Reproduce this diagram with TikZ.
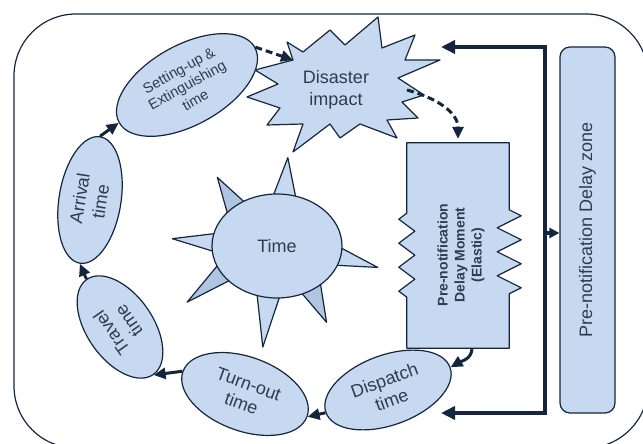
\documentclass[tikz,border=0pt]{standalone}
\usepackage{fontspec}
\setmainfont{Liberation Sans}
\usetikzlibrary{arrows.meta,calc,shapes.geometric,decorations.pathmorphing}
\definecolor{boxfill}{RGB}{198,217,241}
\definecolor{rayfill}{RGB}{176,197,225}
\definecolor{navy}{RGB}{20,38,62}
\definecolor{txt}{RGB}{48,60,78}

\begin{document}
\begin{tikzpicture}[x=1pt,y=1pt,>={Triangle[length=12pt,width=11pt]},line join=round,
  box/.style={draw=navy,fill=boxfill,line width=1.2pt},
  lbl/.style={text=txt,align=center,font=\fontsize{18}{21}\selectfont},
  oval/.style={box,lbl,ellipse,inner sep=0pt},
  link/.style={->,draw=navy,line width=3pt},
  dashlink/.style={link,dash pattern=on 7pt off 4pt},
  bracket/.style={draw=navy,line width=4pt,line join=miter,>={Triangle[length=14pt,width=13pt]}}]
\useasboundingbox (0,0) rectangle (643,444);
\clip (0,0) rectangle (643,444);
\draw[navy,line width=1.2pt,rounded corners=62pt] (14,-4) rectangle (648,430);

% delay zone and its bracket
\node[box,lbl,rounded corners=10pt,rotate=90,minimum width=366pt,minimum height=55pt] (zone) at (587.5,214) {Pre-notification Delay zone};
\coordinate (brtop) at (545,397);
\coordinate (brbot) at (545,31);
\coordinate (brmid) at (545,211);
\coordinate (tipT) at (441,397);
\coordinate (tipB) at (441,31);
\draw[bracket,<->] (tipT) -- (brtop) -- (brbot) -- (tipB);
\draw[bracket,->,>={Triangle[length=10pt,width=10pt]}] (brmid) -- (brmid -| zone.north);

% disaster impact burst
\draw[box] (287,402) -- (303,392) -- (330,414) -- (345,399) -- (378,427) -- (382,396)
  -- (415,409) -- (405,384) -- (440,384) -- (398,366) -- (424,349) -- (402,342)
  -- (418,326) -- (387,324) -- (397,306) -- (360,320) -- (340,306) -- (330,320)
  -- (293,292) -- (303,320) -- (267,319) -- (280,336) -- (247,347) -- (278,360)
  -- (255,374) -- (293,384) -- cycle;
\coordinate (hitL) at (293,384);
\coordinate (hitR) at (407,354);
\node[lbl,font=\fontsize{18}{22}\selectfont] (impact) at (336,354) {Disaster\\impact};

% time sun
\coordinate (sun) at (277,198);
\foreach \a/\r/\col in {83/89/boxfill,131/91/rayfill,176/105/boxfill,212/106/rayfill,262/102/boxfill,303/91/rayfill,348/103/boxfill}
  \draw[box,fill=\col] ($(sun)+({\a-11}:62 and 49)$) -- ($(sun)+(\a:\r)$) -- ($(sun)+({\a+11}:62 and 49)$) -- cycle;
\node[oval,minimum width=130pt,minimum height=104pt] (time) at (sun) {Time};

% pre-notification moment
\node[minimum width=102pt,minimum height=205pt,inner sep=0pt] (moment) at (458,198.5) {};
\draw[box] (moment.north west) -- (moment.north east) -- ++(0,-67)
  decorate[decoration={zigzag,segment length=24pt,amplitude=12pt}] {-- ++(0,-87)}
  -- (moment.south east) -- (moment.south west) -- ++(0,51)
  decorate[decoration={zigzag,segment length=24pt,amplitude=8pt}] {-- ++(0,87)} -- cycle;
\node[lbl,rotate=90,font=\bfseries\fontsize{14}{17}\selectfont] (momenttext) at (461,189) {Pre-notification\\Delay Moment\\(Elastic)};

% cycle of times
\node[oval,rotate=29,minimum width=155pt,minimum height=80pt,font=\fontsize{14.5}{17}\selectfont] (setup) at (187,359) {Setting-up \&\\Extinguishing\\time};
\node[oval,rotate=81,minimum width=128pt,minimum height=62pt] (arrival) at (90,244) {Arrival\\time};
\node[oval,rotate=125,minimum width=116pt,minimum height=66pt] (travel) at (120,117) {Travel\\time};
\node[oval,rotate=-20,minimum width=132pt,minimum height=74pt] (turnout) at (245,50) {Turn-out\\time};
\node[oval,rotate=20,minimum width=132pt,minimum height=70pt] (dispatch) at (388,54) {Dispatch\\time};

\path (setup.east) edge[dashlink] (hitL)
   (hitR) edge[dashlink,out=-15,in=90] ([yshift=4pt]moment.north)
   ([xshift=14pt]moment.south) edge[link,out=-90,in=30] (dispatch.east)
   (dispatch.west) edge[link] (turnout.east)
   (turnout.west) edge[link] (travel.west)
   (travel.east) edge[link] (arrival.west)
   (arrival.east) edge[link] (setup.west);
\end{tikzpicture}
\end{document}
